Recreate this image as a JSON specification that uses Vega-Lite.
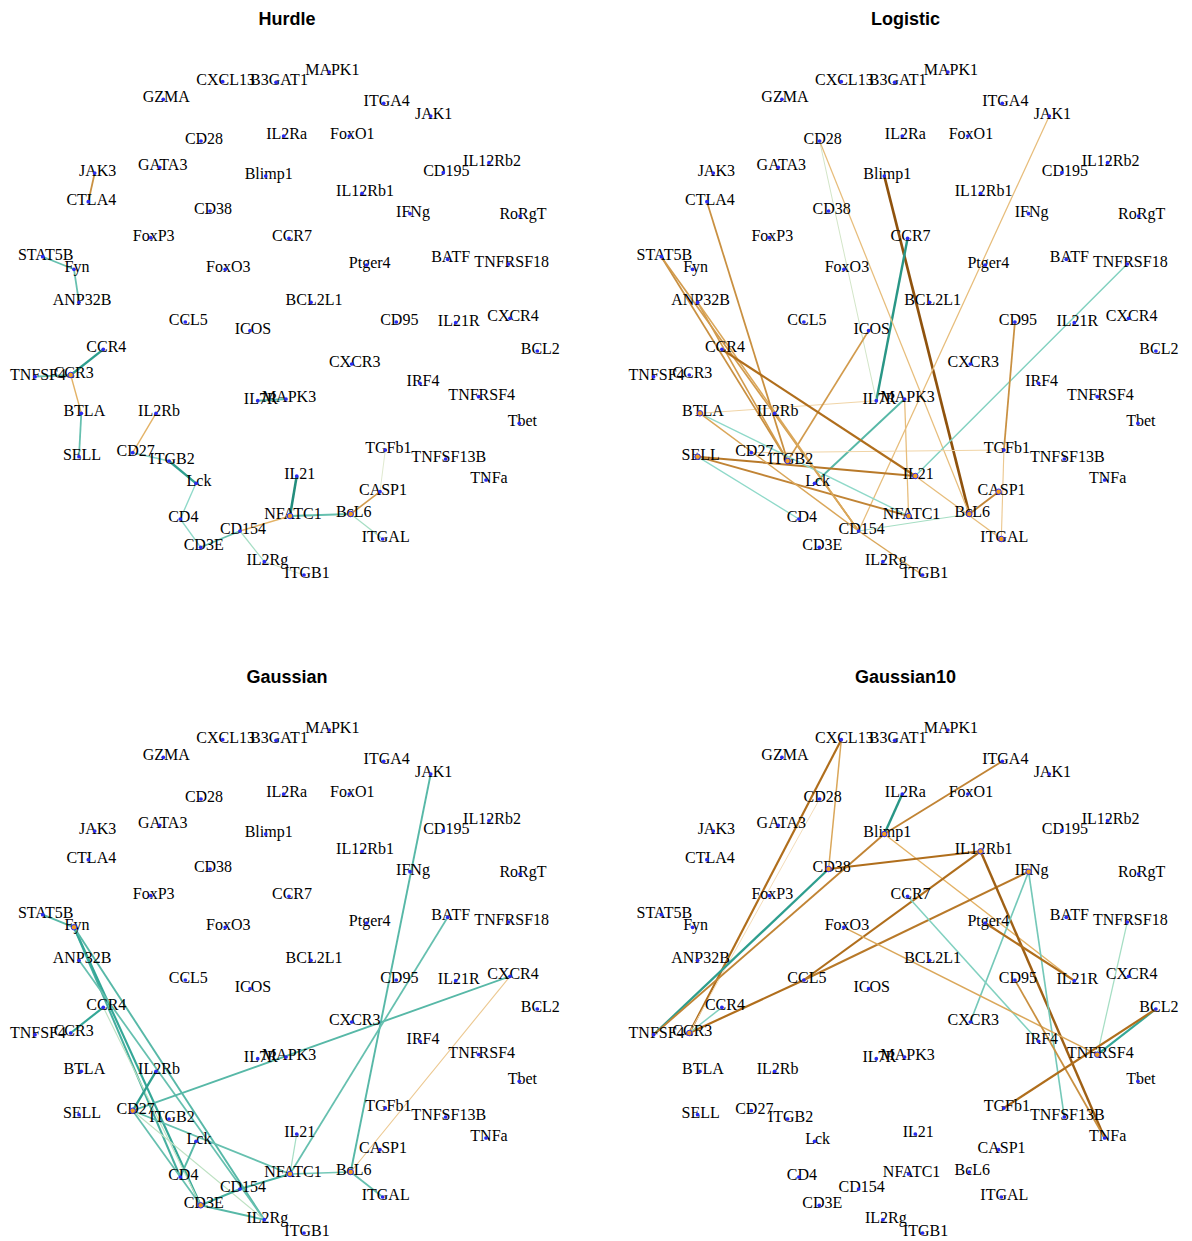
{
  "$schema": "https://vega.github.io/schema/vega-lite/v6.json",
  "padding": {"left": 0, "top": 11, "right": 0, "bottom": 0},
  "background": "white",
  "bounds": "flush",
  "columns": 2,
  "spacing": {"row": 98, "column": 58.6},
  "config": {
    "view": {"stroke": null},
    "title": {"fontSize": 18, "font": "Liberation Sans", "fontWeight": "bold", "anchor": "middle", "offset": 11, "color": "black", "dx": 7}
  },
  "datasets": {
    "nodes": [
      {"name": "CXCL13", "x": 222.7, "y": 81.7}, {"name": "B3GAT1", "x": 276, "y": 82.3}, {"name": "MAPK1", "x": 329.3, "y": 72},
      {"name": "GZMA", "x": 163.3, "y": 99.3}, {"name": "ITGA4", "x": 383.7, "y": 103.3}, {"name": "JAK1", "x": 430.7, "y": 116},
      {"name": "CD28", "x": 201, "y": 141}, {"name": "IL2Ra", "x": 283.7, "y": 136}, {"name": "FoxO1", "x": 349.3, "y": 136},
      {"name": "IL12Rb2", "x": 489, "y": 162.7}, {"name": "CD195", "x": 443.3, "y": 172.7}, {"name": "JAK3", "x": 94.7, "y": 173},
      {"name": "GATA3", "x": 159.7, "y": 167.3}, {"name": "Blimp1", "x": 265.7, "y": 176}, {"name": "IL12Rb1", "x": 362, "y": 193.3},
      {"name": "CTLA4", "x": 88.3, "y": 201.7}, {"name": "CD38", "x": 210, "y": 211}, {"name": "IFNg", "x": 410, "y": 213.7},
      {"name": "RoRgT", "x": 520, "y": 216}, {"name": "FoxP3", "x": 150.7, "y": 237.7}, {"name": "CCR7", "x": 289, "y": 238.3},
      {"name": "STAT5B", "x": 42.7, "y": 256.7}, {"name": "BATF", "x": 447.7, "y": 259.3}, {"name": "TNFRSF18", "x": 508.7, "y": 264},
      {"name": "Ptger4", "x": 366.7, "y": 265}, {"name": "Fyn", "x": 74, "y": 269.3}, {"name": "FoxO3", "x": 225.3, "y": 269.3},
      {"name": "ANP32B", "x": 79, "y": 302.3}, {"name": "BCL2L1", "x": 311, "y": 302.3}, {"name": "CXCR4", "x": 510, "y": 318.3},
      {"name": "CCL5", "x": 185.3, "y": 322}, {"name": "CD95", "x": 396.3, "y": 322}, {"name": "IL21R", "x": 455.7, "y": 322.7},
      {"name": "ICOS", "x": 250, "y": 330.7}, {"name": "CCR4", "x": 103.3, "y": 349.3}, {"name": "BCL2", "x": 537.3, "y": 351},
      {"name": "CXCR3", "x": 351.7, "y": 364}, {"name": "CCR3", "x": 70.7, "y": 375}, {"name": "TNFSF4", "x": 35, "y": 376.7},
      {"name": "IRF4", "x": 420, "y": 383.3}, {"name": "TNFRSF4", "x": 478.7, "y": 396.7}, {"name": "MAPK3", "x": 286, "y": 399},
      {"name": "IL7R", "x": 257.7, "y": 400.7}, {"name": "BTLA", "x": 81.3, "y": 413.3}, {"name": "IL2Rb", "x": 156, "y": 413.3},
      {"name": "Tbet", "x": 519.3, "y": 423.3}, {"name": "TGFb1", "x": 385.3, "y": 450}, {"name": "CD27", "x": 132.7, "y": 452.7},
      {"name": "SELL", "x": 79, "y": 456.7}, {"name": "TNFSF13B", "x": 445.7, "y": 459}, {"name": "ITGB2", "x": 169, "y": 461},
      {"name": "IL21", "x": 296.7, "y": 476}, {"name": "TNFa", "x": 486, "y": 480}, {"name": "Lck", "x": 196, "y": 483.3},
      {"name": "CASP1", "x": 380, "y": 491.7}, {"name": "BcL6", "x": 350.7, "y": 514}, {"name": "NFATC1", "x": 290, "y": 516},
      {"name": "CD4", "x": 180.3, "y": 519}, {"name": "CD154", "x": 240, "y": 531}, {"name": "ITGAL", "x": 382.7, "y": 539},
      {"name": "CD3E", "x": 200.7, "y": 547.3}, {"name": "IL2Rg", "x": 264.3, "y": 561.7}, {"name": "ITGB1", "x": 304, "y": 575}
    ],
    "hubs": [
      {"panel": "Hurdle", "name": "CCR3"}, {"panel": "Hurdle", "name": "NFATC1"}, {"panel": "Hurdle", "name": "BcL6"},
      {"panel": "Logistic", "name": "SELL"}, {"panel": "Logistic", "name": "ITGB2"}, {"panel": "Logistic", "name": "IL21"},
      {"panel": "Logistic", "name": "NFATC1"}, {"panel": "Logistic", "name": "BcL6"}, {"panel": "Logistic", "name": "CASP1"},
      {"panel": "Logistic", "name": "ITGAL"}, {"panel": "Logistic", "name": "BTLA"},
      {"panel": "Gaussian", "name": "Fyn"}, {"panel": "Gaussian", "name": "CD27"}, {"panel": "Gaussian", "name": "NFATC1"},
      {"panel": "Gaussian", "name": "CD3E"}, {"panel": "Gaussian", "name": "BcL6"},
      {"panel": "Gaussian10", "name": "Blimp1"}, {"panel": "Gaussian10", "name": "CD38"}, {"panel": "Gaussian10", "name": "IFNg"},
      {"panel": "Gaussian10", "name": "CCR3"}, {"panel": "Gaussian10", "name": "TNFRSF4"}, {"panel": "Gaussian10", "name": "IL12Rb1"}
    ],
    "edges": [
      {"panel": "Hurdle", "source": "JAK3", "target": "CTLA4", "weight": -0.45},
      {"panel": "Hurdle", "source": "STAT5B", "target": "Fyn", "weight": 0.45},
      {"panel": "Hurdle", "source": "Fyn", "target": "ANP32B", "weight": 0.45},
      {"panel": "Hurdle", "source": "CCR4", "target": "CCR3", "weight": 0.65},
      {"panel": "Hurdle", "source": "TNFSF4", "target": "CCR3", "weight": 0.45},
      {"panel": "Hurdle", "source": "CCR3", "target": "BTLA", "weight": -0.3},
      {"panel": "Hurdle", "source": "BTLA", "target": "SELL", "weight": 0.45},
      {"panel": "Hurdle", "source": "IL2Rb", "target": "CD27", "weight": -0.3},
      {"panel": "Hurdle", "source": "CD27", "target": "ITGB2", "weight": 0.35},
      {"panel": "Hurdle", "source": "ITGB2", "target": "Lck", "weight": 0.65},
      {"panel": "Hurdle", "source": "Lck", "target": "CD4", "weight": 0.3},
      {"panel": "Hurdle", "source": "CD4", "target": "CD3E", "weight": 0.3},
      {"panel": "Hurdle", "source": "CD3E", "target": "CD154", "weight": 0.45},
      {"panel": "Hurdle", "source": "CD154", "target": "NFATC1", "weight": -0.3},
      {"panel": "Hurdle", "source": "CD154", "target": "IL2Rg", "weight": 0.25},
      {"panel": "Hurdle", "source": "IL2Rg", "target": "ITGB1", "weight": 0.15},
      {"panel": "Hurdle", "source": "IL21", "target": "NFATC1", "weight": 0.75},
      {"panel": "Hurdle", "source": "NFATC1", "target": "BcL6", "weight": 0.45},
      {"panel": "Hurdle", "source": "BcL6", "target": "CASP1", "weight": -0.4},
      {"panel": "Hurdle", "source": "BcL6", "target": "ITGAL", "weight": 0.25},
      {"panel": "Hurdle", "source": "CASP1", "target": "TGFb1", "weight": 0.12},
      {"panel": "Hurdle", "source": "IL7R", "target": "MAPK3", "weight": 0.5},

      {"panel": "Logistic", "source": "Blimp1", "target": "BcL6", "weight": -0.8},
      {"panel": "Logistic", "source": "CCR7", "target": "IL7R", "weight": 0.7},
      {"panel": "Logistic", "source": "CD28", "target": "IL7R", "weight": 0.15},
      {"panel": "Logistic", "source": "CD28", "target": "BcL6", "weight": -0.25},
      {"panel": "Logistic", "source": "JAK1", "target": "CD154", "weight": -0.25},
      {"panel": "Logistic", "source": "TNFRSF18", "target": "IL21", "weight": 0.35},
      {"panel": "Logistic", "source": "MAPK3", "target": "Lck", "weight": 0.5},
      {"panel": "Logistic", "source": "CD95", "target": "TGFb1", "weight": -0.45},
      {"panel": "Logistic", "source": "TGFb1", "target": "ITGAL", "weight": -0.2},
      {"panel": "Logistic", "source": "CD27", "target": "TGFb1", "weight": -0.15},
      {"panel": "Logistic", "source": "BTLA", "target": "IL7R", "weight": -0.15},
      {"panel": "Logistic", "source": "CASP1", "target": "BcL6", "weight": -0.5},
      {"panel": "Logistic", "source": "IL21", "target": "ITGAL", "weight": -0.25},
      {"panel": "Logistic", "source": "MAPK3", "target": "NFATC1", "weight": -0.25},
      {"panel": "Logistic", "source": "ICOS", "target": "ITGB2", "weight": -0.4},
      {"panel": "Logistic", "source": "STAT5B", "target": "ITGB2", "weight": -0.45},
      {"panel": "Logistic", "source": "STAT5B", "target": "CD154", "weight": -0.4},
      {"panel": "Logistic", "source": "ANP32B", "target": "ITGB2", "weight": -0.4},
      {"panel": "Logistic", "source": "ANP32B", "target": "CD154", "weight": -0.35},
      {"panel": "Logistic", "source": "CTLA4", "target": "ITGB2", "weight": -0.45},
      {"panel": "Logistic", "source": "CCR4", "target": "IL21", "weight": -0.6},
      {"panel": "Logistic", "source": "SELL", "target": "IL21", "weight": -0.55},
      {"panel": "Logistic", "source": "SELL", "target": "NFATC1", "weight": -0.5},
      {"panel": "Logistic", "source": "SELL", "target": "CD4", "weight": 0.3},
      {"panel": "Logistic", "source": "BTLA", "target": "NFATC1", "weight": 0.3},
      {"panel": "Logistic", "source": "BTLA", "target": "CD154", "weight": -0.35},
      {"panel": "Logistic", "source": "IL2Rb", "target": "CD154", "weight": -0.35},
      {"panel": "Logistic", "source": "CD154", "target": "BcL6", "weight": 0.25},
      {"panel": "Logistic", "source": "CD154", "target": "ITGB1", "weight": -0.35},

      {"panel": "Gaussian", "source": "STAT5B", "target": "Fyn", "weight": 0.5},
      {"panel": "Gaussian", "source": "Fyn", "target": "CD4", "weight": 0.55},
      {"panel": "Gaussian", "source": "Fyn", "target": "CD3E", "weight": 0.6},
      {"panel": "Gaussian", "source": "Fyn", "target": "IL2Rg", "weight": 0.5},
      {"panel": "Gaussian", "source": "ANP32B", "target": "IL2Rg", "weight": 0.45},
      {"panel": "Gaussian", "source": "CCR4", "target": "CCR3", "weight": 0.6},
      {"panel": "Gaussian", "source": "CCR4", "target": "CD3E", "weight": 0.2},
      {"panel": "Gaussian", "source": "CD27", "target": "IL2Rb", "weight": 0.65},
      {"panel": "Gaussian", "source": "CD27", "target": "CD3E", "weight": 0.45},
      {"panel": "Gaussian", "source": "CD27", "target": "IL2Rg", "weight": 0.2},
      {"panel": "Gaussian", "source": "CD27", "target": "NFATC1", "weight": 0.45},
      {"panel": "Gaussian", "source": "CXCR4", "target": "CD27", "weight": 0.5},
      {"panel": "Gaussian", "source": "Lck", "target": "CD4", "weight": 0.5},
      {"panel": "Gaussian", "source": "CD3E", "target": "CD154", "weight": 0.55},
      {"panel": "Gaussian", "source": "CD154", "target": "NFATC1", "weight": 0.55},
      {"panel": "Gaussian", "source": "CD3E", "target": "IL2Rg", "weight": 0.5},
      {"panel": "Gaussian", "source": "IL21", "target": "NFATC1", "weight": 0.25},
      {"panel": "Gaussian", "source": "NFATC1", "target": "BcL6", "weight": 0.4},
      {"panel": "Gaussian", "source": "BcL6", "target": "ITGAL", "weight": 0.45},
      {"panel": "Gaussian", "source": "JAK1", "target": "BcL6", "weight": 0.5},
      {"panel": "Gaussian", "source": "BATF", "target": "NFATC1", "weight": 0.45},
      {"panel": "Gaussian", "source": "CXCR4", "target": "BcL6", "weight": -0.2},

      {"panel": "Gaussian10", "source": "CXCL13", "target": "CD38", "weight": -0.35},
      {"panel": "Gaussian10", "source": "CXCL13", "target": "CCR3", "weight": -0.6},
      {"panel": "Gaussian10", "source": "CD28", "target": "CCR3", "weight": -0.12},
      {"panel": "Gaussian10", "source": "CD38", "target": "TNFSF4", "weight": 0.65},
      {"panel": "Gaussian10", "source": "Blimp1", "target": "TNFSF4", "weight": -0.5},
      {"panel": "Gaussian10", "source": "Blimp1", "target": "IL2Ra", "weight": 0.7},
      {"panel": "Gaussian10", "source": "Blimp1", "target": "ITGA4", "weight": -0.5},
      {"panel": "Gaussian10", "source": "Blimp1", "target": "IL21R", "weight": -0.3},
      {"panel": "Gaussian10", "source": "CD38", "target": "IL12Rb1", "weight": -0.6},
      {"panel": "Gaussian10", "source": "IL12Rb1", "target": "CCL5", "weight": -0.6},
      {"panel": "Gaussian10", "source": "IFNg", "target": "CCL5", "weight": -0.55},
      {"panel": "Gaussian10", "source": "CCL5", "target": "CCR3", "weight": -0.6},
      {"panel": "Gaussian10", "source": "IL12Rb1", "target": "TNFa", "weight": -0.7},
      {"panel": "Gaussian10", "source": "IFNg", "target": "CXCR3", "weight": 0.4},
      {"panel": "Gaussian10", "source": "IFNg", "target": "TNFSF13B", "weight": 0.4},
      {"panel": "Gaussian10", "source": "CCR7", "target": "IRF4", "weight": 0.35},
      {"panel": "Gaussian10", "source": "FoxO3", "target": "TNFRSF4", "weight": -0.35},
      {"panel": "Gaussian10", "source": "Ptger4", "target": "IL21R", "weight": -0.6},
      {"panel": "Gaussian10", "source": "CD95", "target": "TNFa", "weight": -0.45},
      {"panel": "Gaussian10", "source": "TNFRSF18", "target": "TNFRSF4", "weight": 0.25},
      {"panel": "Gaussian10", "source": "TNFRSF4", "target": "BCL2", "weight": 0.6},
      {"panel": "Gaussian10", "source": "BCL2", "target": "TGFb1", "weight": -0.6},
      {"panel": "Gaussian10", "source": "CCR4", "target": "CCR3", "weight": 0.35}
    ]
  },
  "concat": [
    {
      "title": "Hurdle", "width": 560, "height": 560,
      "layer": [
        {"data": {"name": "edges"},
         "transform": [{"filter": "datum.panel == 'Hurdle'"},
           {"lookup": "source", "from": {"data": {"name": "nodes"}, "key": "name", "fields": ["x", "y"]}, "as": ["sx", "sy"]},
           {"lookup": "target", "from": {"data": {"name": "nodes"}, "key": "name", "fields": ["x", "y"]}, "as": ["tx", "ty"]}],
         "mark": {"type": "rule"},
         "encoding": {
           "x": {"field": "sx", "type": "quantitative", "scale": {"domain": [0, 560]}, "axis": null},
           "y": {"field": "sy", "type": "quantitative", "scale": {"domain": [40, 600], "reverse": true}, "axis": null},
           "x2": {"field": "tx"}, "y2": {"field": "ty"},
           "color": {"field": "weight", "type": "quantitative", "scale": {"domain": [-1, -0.6, -0.3, 0, 0.3, 0.6, 1], "range": ["#6e3800", "#b06e1c", "#e3b266", "#fbf3e6", "#8fd9c9", "#34a797", "#006455"]}, "legend": null},
           "strokeWidth": {"field": "weight", "type": "quantitative", "scale": {"domain": [-1, 0, 1], "range": [3.2, 0.6, 3.2]}, "legend": null}
         }},
        {"data": {"name": "nodes"},
         "mark": {"type": "text", "font": "Liberation Serif", "fontSize": 16, "align": "center", "baseline": "alphabetic", "dx": 3, "dy": 3, "color": "black"},
         "encoding": {
           "x": {"field": "x", "type": "quantitative", "scale": {"domain": [0, 560]}, "axis": null},
           "y": {"field": "y", "type": "quantitative", "scale": {"domain": [40, 600], "reverse": true}, "axis": null},
           "text": {"field": "name"}
         }},
        {"data": {"name": "nodes"},
         "mark": {"type": "circle", "color": "#2b2bf0", "size": 14, "opacity": 1},
         "encoding": {
           "x": {"field": "x", "type": "quantitative", "scale": {"domain": [0, 560]}, "axis": null},
           "y": {"field": "y", "type": "quantitative", "scale": {"domain": [40, 600], "reverse": true}, "axis": null}
         }},
        {"data": {"name": "hubs"},
         "transform": [{"filter": "datum.panel == 'Hurdle'"},
           {"lookup": "name", "from": {"data": {"name": "nodes"}, "key": "name", "fields": ["x", "y"]}}],
         "mark": {"type": "point", "filled": true, "fill": "#f5a020", "stroke": "#2b2bf0", "strokeWidth": 1, "size": 30, "opacity": 1},
         "encoding": {
           "x": {"field": "x", "type": "quantitative", "scale": {"domain": [0, 560]}, "axis": null},
           "y": {"field": "y", "type": "quantitative", "scale": {"domain": [40, 600], "reverse": true}, "axis": null}
         }}
      ]
    },
    {
      "title": "Logistic", "width": 560, "height": 560,
      "layer": [
        {"data": {"name": "edges"},
         "transform": [{"filter": "datum.panel == 'Logistic'"},
           {"lookup": "source", "from": {"data": {"name": "nodes"}, "key": "name", "fields": ["x", "y"]}, "as": ["sx", "sy"]},
           {"lookup": "target", "from": {"data": {"name": "nodes"}, "key": "name", "fields": ["x", "y"]}, "as": ["tx", "ty"]}],
         "mark": {"type": "rule"},
         "encoding": {
           "x": {"field": "sx", "type": "quantitative", "scale": {"domain": [0, 560]}, "axis": null},
           "y": {"field": "sy", "type": "quantitative", "scale": {"domain": [40, 600], "reverse": true}, "axis": null},
           "x2": {"field": "tx"}, "y2": {"field": "ty"},
           "color": {"field": "weight", "type": "quantitative", "scale": {"domain": [-1, -0.6, -0.3, 0, 0.3, 0.6, 1], "range": ["#6e3800", "#b06e1c", "#e3b266", "#fbf3e6", "#8fd9c9", "#34a797", "#006455"]}, "legend": null},
           "strokeWidth": {"field": "weight", "type": "quantitative", "scale": {"domain": [-1, 0, 1], "range": [3.2, 0.6, 3.2]}, "legend": null}
         }},
        {"data": {"name": "nodes"},
         "mark": {"type": "text", "font": "Liberation Serif", "fontSize": 16, "align": "center", "baseline": "alphabetic", "dx": 3, "dy": 3, "color": "black"},
         "encoding": {
           "x": {"field": "x", "type": "quantitative", "scale": {"domain": [0, 560]}, "axis": null},
           "y": {"field": "y", "type": "quantitative", "scale": {"domain": [40, 600], "reverse": true}, "axis": null},
           "text": {"field": "name"}
         }},
        {"data": {"name": "nodes"},
         "mark": {"type": "circle", "color": "#2b2bf0", "size": 14, "opacity": 1},
         "encoding": {
           "x": {"field": "x", "type": "quantitative", "scale": {"domain": [0, 560]}, "axis": null},
           "y": {"field": "y", "type": "quantitative", "scale": {"domain": [40, 600], "reverse": true}, "axis": null}
         }},
        {"data": {"name": "hubs"},
         "transform": [{"filter": "datum.panel == 'Logistic'"},
           {"lookup": "name", "from": {"data": {"name": "nodes"}, "key": "name", "fields": ["x", "y"]}}],
         "mark": {"type": "point", "filled": true, "fill": "#f5a020", "stroke": "#2b2bf0", "strokeWidth": 1, "size": 30, "opacity": 1},
         "encoding": {
           "x": {"field": "x", "type": "quantitative", "scale": {"domain": [0, 560]}, "axis": null},
           "y": {"field": "y", "type": "quantitative", "scale": {"domain": [40, 600], "reverse": true}, "axis": null}
         }}
      ]
    },
    {
      "title": "Gaussian", "width": 560, "height": 560,
      "layer": [
        {"data": {"name": "edges"},
         "transform": [{"filter": "datum.panel == 'Gaussian'"},
           {"lookup": "source", "from": {"data": {"name": "nodes"}, "key": "name", "fields": ["x", "y"]}, "as": ["sx", "sy"]},
           {"lookup": "target", "from": {"data": {"name": "nodes"}, "key": "name", "fields": ["x", "y"]}, "as": ["tx", "ty"]}],
         "mark": {"type": "rule"},
         "encoding": {
           "x": {"field": "sx", "type": "quantitative", "scale": {"domain": [0, 560]}, "axis": null},
           "y": {"field": "sy", "type": "quantitative", "scale": {"domain": [40, 600], "reverse": true}, "axis": null},
           "x2": {"field": "tx"}, "y2": {"field": "ty"},
           "color": {"field": "weight", "type": "quantitative", "scale": {"domain": [-1, -0.6, -0.3, 0, 0.3, 0.6, 1], "range": ["#6e3800", "#b06e1c", "#e3b266", "#fbf3e6", "#8fd9c9", "#34a797", "#006455"]}, "legend": null},
           "strokeWidth": {"field": "weight", "type": "quantitative", "scale": {"domain": [-1, 0, 1], "range": [3.2, 0.6, 3.2]}, "legend": null}
         }},
        {"data": {"name": "nodes"},
         "mark": {"type": "text", "font": "Liberation Serif", "fontSize": 16, "align": "center", "baseline": "alphabetic", "dx": 3, "dy": 3, "color": "black"},
         "encoding": {
           "x": {"field": "x", "type": "quantitative", "scale": {"domain": [0, 560]}, "axis": null},
           "y": {"field": "y", "type": "quantitative", "scale": {"domain": [40, 600], "reverse": true}, "axis": null},
           "text": {"field": "name"}
         }},
        {"data": {"name": "nodes"},
         "mark": {"type": "circle", "color": "#2b2bf0", "size": 14, "opacity": 1},
         "encoding": {
           "x": {"field": "x", "type": "quantitative", "scale": {"domain": [0, 560]}, "axis": null},
           "y": {"field": "y", "type": "quantitative", "scale": {"domain": [40, 600], "reverse": true}, "axis": null}
         }},
        {"data": {"name": "hubs"},
         "transform": [{"filter": "datum.panel == 'Gaussian'"},
           {"lookup": "name", "from": {"data": {"name": "nodes"}, "key": "name", "fields": ["x", "y"]}}],
         "mark": {"type": "point", "filled": true, "fill": "#f5a020", "stroke": "#2b2bf0", "strokeWidth": 1, "size": 30, "opacity": 1},
         "encoding": {
           "x": {"field": "x", "type": "quantitative", "scale": {"domain": [0, 560]}, "axis": null},
           "y": {"field": "y", "type": "quantitative", "scale": {"domain": [40, 600], "reverse": true}, "axis": null}
         }}
      ]
    },
    {
      "title": "Gaussian10", "width": 560, "height": 560,
      "layer": [
        {"data": {"name": "edges"},
         "transform": [{"filter": "datum.panel == 'Gaussian10'"},
           {"lookup": "source", "from": {"data": {"name": "nodes"}, "key": "name", "fields": ["x", "y"]}, "as": ["sx", "sy"]},
           {"lookup": "target", "from": {"data": {"name": "nodes"}, "key": "name", "fields": ["x", "y"]}, "as": ["tx", "ty"]}],
         "mark": {"type": "rule"},
         "encoding": {
           "x": {"field": "sx", "type": "quantitative", "scale": {"domain": [0, 560]}, "axis": null},
           "y": {"field": "sy", "type": "quantitative", "scale": {"domain": [40, 600], "reverse": true}, "axis": null},
           "x2": {"field": "tx"}, "y2": {"field": "ty"},
           "color": {"field": "weight", "type": "quantitative", "scale": {"domain": [-1, -0.6, -0.3, 0, 0.3, 0.6, 1], "range": ["#6e3800", "#b06e1c", "#e3b266", "#fbf3e6", "#8fd9c9", "#34a797", "#006455"]}, "legend": null},
           "strokeWidth": {"field": "weight", "type": "quantitative", "scale": {"domain": [-1, 0, 1], "range": [3.2, 0.6, 3.2]}, "legend": null}
         }},
        {"data": {"name": "nodes"},
         "mark": {"type": "text", "font": "Liberation Serif", "fontSize": 16, "align": "center", "baseline": "alphabetic", "dx": 3, "dy": 3, "color": "black"},
         "encoding": {
           "x": {"field": "x", "type": "quantitative", "scale": {"domain": [0, 560]}, "axis": null},
           "y": {"field": "y", "type": "quantitative", "scale": {"domain": [40, 600], "reverse": true}, "axis": null},
           "text": {"field": "name"}
         }},
        {"data": {"name": "nodes"},
         "mark": {"type": "circle", "color": "#2b2bf0", "size": 14, "opacity": 1},
         "encoding": {
           "x": {"field": "x", "type": "quantitative", "scale": {"domain": [0, 560]}, "axis": null},
           "y": {"field": "y", "type": "quantitative", "scale": {"domain": [40, 600], "reverse": true}, "axis": null}
         }},
        {"data": {"name": "hubs"},
         "transform": [{"filter": "datum.panel == 'Gaussian10'"},
           {"lookup": "name", "from": {"data": {"name": "nodes"}, "key": "name", "fields": ["x", "y"]}}],
         "mark": {"type": "point", "filled": true, "fill": "#f5a020", "stroke": "#2b2bf0", "strokeWidth": 1, "size": 30, "opacity": 1},
         "encoding": {
           "x": {"field": "x", "type": "quantitative", "scale": {"domain": [0, 560]}, "axis": null},
           "y": {"field": "y", "type": "quantitative", "scale": {"domain": [40, 600], "reverse": true}, "axis": null}
         }}
      ]
    }
  ]
}
